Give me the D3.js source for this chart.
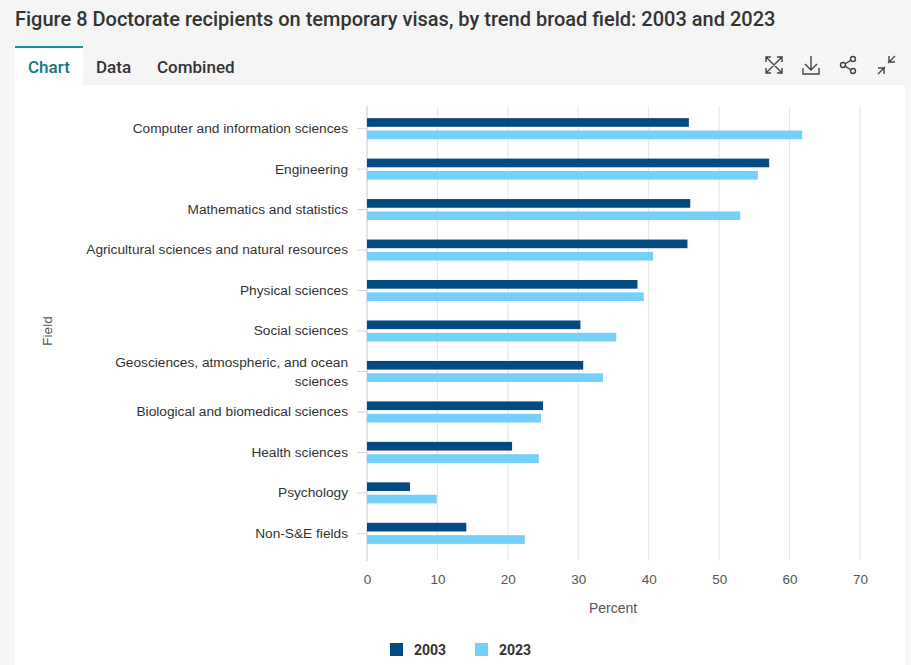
<!DOCTYPE html>
<html><head><meta charset="utf-8">
<script src="https://cdn.jsdelivr.net/npm/d3@7"></script>
<style>
body{margin:0;background:#f5f5f5;font-family:Roboto,sans-serif;}
svg{display:block;}
</style></head>
<body><svg width="911" height="665"></svg>
<script>
const fields = ["Computer and information sciences","Engineering","Mathematics and statistics","Agricultural sciences and natural resources","Physical sciences","Social sciences","Geosciences, atmospheric, and ocean sciences","Biological and biomedical sciences","Health sciences","Psychology","Non-S&E fields"];
const years = ["2003","2023"];
const v2003 = [45.7,57.1,45.9,45.5,38.4,30.3,30.7,25.0,20.6,6.1,14.1];
const v2023 = [61.8,55.5,53.0,40.6,39.3,35.4,33.5,24.7,24.4,9.9,22.4];
const xTicks = [0,10,20,30,40,50,60,70];
const colors = ["#034a80","#73d0f9"];

const svg = d3.select("svg");
svg.append("text").attr("x",15).attr("y",26).attr("font-size",20).attr("font-weight",500).attr("fill","#333")
  .text("Figure 8 Doctorate recipients on temporary visas, by trend broad field: 2003 and 2023");
// panel + tabs
svg.append("rect").attr("x",15).attr("y",85).attr("width",890).attr("height",580).attr("fill","#fff");
svg.append("rect").attr("x",15).attr("y",47).attr("width",68).attr("height",38).attr("fill","#fff");
svg.append("rect").attr("x",15).attr("y",46).attr("width",68).attr("height",2).attr("fill","#16939b");
[["Chart",28,"#0e7a80"],["Data",96,"#333"],["Combined",157,"#333"]].forEach(d=>
  svg.append("text").attr("x",d[1]).attr("y",73).attr("font-size",17).attr("font-weight",500).attr("fill",d[2]).text(d[0]));
// icons
const ic = svg.append("g").attr("stroke","#444").attr("fill","none").attr("stroke-width",1.4);
ic.append("path").attr("d","M766,57 l16,16 M782,57 l-16,16 M766,62 v-5 h5 M782,62 v-5 h-5 M766,68 v5 h5 M782,68 v5 h-5");
ic.append("path").attr("d","M811,56 v14 M805,64 l6,6 l6,-6 M803,68 v6 h16 v-6");
ic.append("circle").attr("cx",843).attr("cy",65).attr("r",2.5);
ic.append("circle").attr("cx",853).attr("cy",59).attr("r",2.5);
ic.append("circle").attr("cx",853).attr("cy",71).attr("r",2.5);
ic.append("path").attr("d","M845,64 l6,-4 M845,66 l6,4");
ic.append("path").attr("d","M878,74 l7,-7 M878,68 h6 v6 M895,56 l-7,7 M895,62 h-6 v-6");

const x = d3.scaleLinear().domain([0,70]).range([367,860]);
const y = d3.scaleBand().domain(fields).range([106,556]).paddingInner(0.48).paddingOuter(0.3);
const yb = d3.scaleBand().domain(years).range([0,y.bandwidth()]).paddingInner(0.3);

svg.append("g").selectAll("line").data(xTicks).join("line")
  .attr("x1",d=>x(d)).attr("x2",d=>x(d)).attr("y1",106).attr("y2",561)
  .attr("stroke","#e4e4e4");
svg.append("line").attr("x1",x(0)).attr("x2",x(0)).attr("y1",106).attr("y2",561).attr("stroke","#ccd6eb");

const series = [v2003,v2023];
years.forEach((yr,k)=>{
  svg.append("g").selectAll("rect").data(fields).join("rect")
    .attr("x",x(0)).attr("y",(f)=>y(f)+yb(yr)).attr("height",yb.bandwidth())
    .attr("width",(f,i)=>x(series[k][i])-x(0)).attr("fill",colors[k]);
});

const xa = svg.append("g").attr("transform","translate(0,561)")
  .call(d3.axisBottom(x).tickValues(xTicks).tickSize(0).tickPadding(13));
xa.select(".domain").remove();
xa.selectAll("text").attr("font-size",13.5).attr("fill","#555").attr("font-family","Liberation Sans, Arial");

const ya = svg.append("g").attr("transform","translate(367,0)")
  .call(d3.axisLeft(y).tickSize(10).tickPadding(9));
ya.select(".domain").remove();
ya.selectAll("line").attr("stroke","#ccd6eb").attr("x2",-10);
ya.selectAll("text").attr("font-size",13.7).attr("fill","#333").attr("font-family","Liberation Sans, Arial")
  .each(function(d){
    if(d.startsWith("Geosciences")){
      const t=d3.select(this).text(null);
      t.append("tspan").attr("x",-19).attr("dy","-0.35em").text("Geosciences, atmospheric, and ocean");
      t.append("tspan").attr("x",-19).attr("dy","1.4em").text("sciences");
    }
  });

svg.append("text").attr("transform","translate(52,331) rotate(-90)").attr("text-anchor","middle")
  .attr("font-size",13.5).attr("fill","#555").attr("font-family","Liberation Sans, Arial").text("Field");
svg.append("text").attr("x",613).attr("y",613).attr("text-anchor","middle")
  .attr("font-size",14).attr("fill","#555").attr("font-family","Liberation Sans, Arial").text("Percent");

const lg = svg.append("g");
years.forEach((yr,k)=>{
  const lx = 390 + k*85;
  lg.append("rect").attr("x",lx).attr("y",643).attr("width",13).attr("height",13).attr("fill",colors[k]);
  lg.append("text").attr("x",lx+24).attr("y",655).attr("font-size",14).attr("font-weight",700).attr("fill","#333").text(yr);
});
</script></body></html>
